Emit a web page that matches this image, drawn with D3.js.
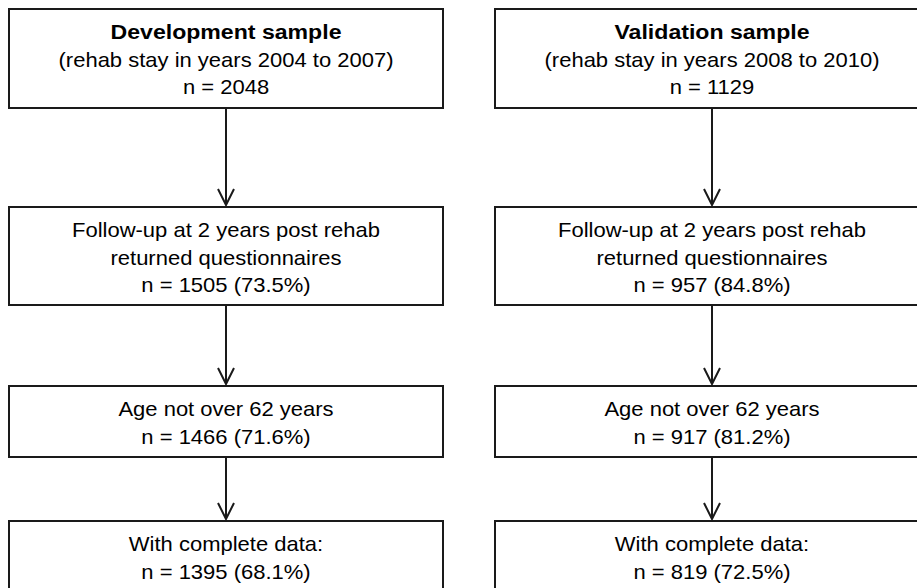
<!DOCTYPE html>
<html>
<head>
<meta charset="utf-8">
<script src="https://cdn.jsdelivr.net/npm/d3@7"></script>
<style>
  html, body { margin: 0; padding: 0; background: #fff; }
  svg { display: block; }
</style>
</head>
<body>
<script>
// ---- data ----
const samples = ["Development sample", "Validation sample"];
const periods = ["(rehab stay in years 2004 to 2007)", "(rehab stay in years 2008 to 2010)"];
const baseN = [2048, 1129];
const stageLabels = [
  ["Follow-up at 2 years post rehab", "returned questionnaires"],
  ["Age not over 62 years"],
  ["With complete data:"]
];
const stageN = [[1505, 957], [1466, 917], [1395, 819]];
const stagePct = [[73.5, 84.8], [71.6, 81.2], [68.1, 72.5]];

// ---- layout ----
const W = 917, H = 588;
const boxW = 434;
const rowTops = [9, 207, 386, 521];
const rowBottoms = [108, 305, 457, 610];
const lineGap = 27.5;
const firstBaseline = 30;
const stretch = 1.1;

const svg = d3.select("body").append("svg").attr("width", W).attr("height", H);
svg.append("rect").attr("width", W).attr("height", H).attr("fill", "#fff");

const xc = d3.scalePoint().domain(samples).range([226, 712]);

// Build box contents
const boxes = [];
samples.forEach((s, i) => {
  boxes.push({ col: s, row: 0, lines: [
    { t: s, bold: true },
    { t: periods[i] },
    { t: "n = " + baseN[i] }
  ]});
  stageLabels.forEach((lab, r) => {
    boxes.push({ col: s, row: r + 1, lines: lab.map(t => ({ t }))
      .concat([{ t: "n = " + stageN[r][i] + " (" + stagePct[r][i].toFixed(1) + "%)" }]) });
  });
});

const g = svg.append("g");

g.selectAll("rect.box").data(boxes).join("rect")
  .attr("class", "box")
  .attr("x", d => xc(d.col) - boxW / 2)
  .attr("y", d => rowTops[d.row])
  .attr("width", boxW)
  .attr("height", d => rowBottoms[d.row] - rowTops[d.row])
  .attr("fill", "#fff")
  .attr("stroke", "#1a1a1a")
  .attr("stroke-width", 2);

boxes.forEach(b => {
  b.lines.forEach((ln, k) => {
    g.append("g")
      .attr("transform", `translate(${xc(b.col)},${rowTops[b.row] + firstBaseline + k * lineGap}) scale(${stretch},1)`)
      .append("text")
      .attr("text-anchor", "middle")
      .attr("font-family", "Liberation Sans, Arial, sans-serif")
      .attr("font-size", ln.bold ? 21 : 20)
      .attr("font-weight", ln.bold ? "bold" : "normal")
      .attr("fill", "#000")
      .text(ln.t);
  });
});

// arrows
const arrows = [];
samples.forEach(s => {
  for (let r = 0; r < 3; r++) arrows.push({ col: s, from: rowBottoms[r], to: rowTops[r + 1] });
});

g.selectAll("line.arrow").data(arrows).join("line")
  .attr("x1", d => xc(d.col)).attr("x2", d => xc(d.col))
  .attr("y1", d => d.from + 1).attr("y2", d => d.to - 2)
  .attr("stroke", "#1a1a1a").attr("stroke-width", 2);

g.selectAll("path.head").data(arrows).join("path")
  .attr("d", d => {
    const x = xc(d.col), y = d.to - 2;
    return `M${x - 8},${y - 16} L${x},${y} L${x + 8},${y - 16}`;
  })
  .attr("fill", "none").attr("stroke", "#1a1a1a").attr("stroke-width", 2);
</script>
</body>
</html>
